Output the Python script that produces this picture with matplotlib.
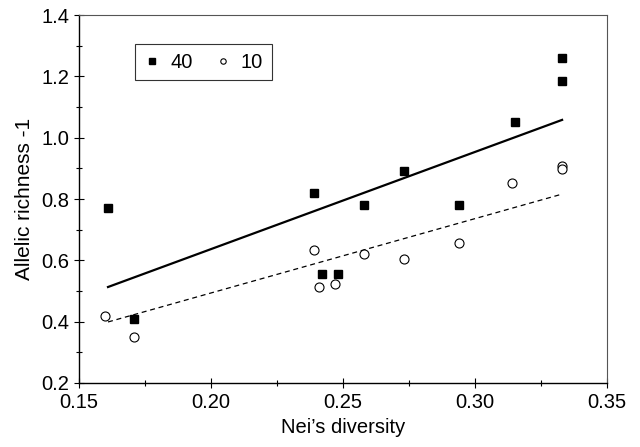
import numpy as np
import matplotlib
matplotlib.use("Agg")
import matplotlib.pyplot as plt
from matplotlib.ticker import MultipleLocator, FormatStrFormatter

# ----- data -----
nei_40 = [0.161, 0.171, 0.239, 0.242, 0.248, 0.258, 0.273, 0.294, 0.315, 0.333, 0.333]
ar_40 = [0.77, 0.41, 0.82, 0.555, 0.555, 0.78, 0.89, 0.78, 1.05, 1.26, 1.185]

nei_10 = [0.160, 0.171, 0.239, 0.241, 0.247, 0.258, 0.273, 0.294, 0.314, 0.333, 0.333]
ar_10 = [0.42, 0.35, 0.635, 0.513, 0.523, 0.622, 0.603, 0.655, 0.852, 0.908, 0.898]

# regression lines (end points as drawn)
fit_x = [0.161, 0.333]
fit_40 = [0.513, 1.058]
fit_10 = [0.399, 0.816]

plt.rcParams["font.family"] = ["Liberation Sans", "DejaVu Sans"]

fig = plt.figure(figsize=(6.4, 4.47), dpi=100)
ax = fig.add_axes([0.1234, 0.1432, 0.825, 0.8232])

ax.plot(fit_x, fit_40, color="black", lw=1.6)
ax.plot(fit_x, fit_10, color="black", lw=0.9, ls=(0, (4, 3)))

ax.plot(nei_40, ar_40, ls="none", marker="s", ms=6.2, mfc="black", mec="black",
        label="40")
ax.plot(nei_10, ar_10, ls="none", marker="o", ms=6.5, mfc="white", mec="black",
        mew=0.8, label="10")

ax.set_xlim(0.15, 0.35)
ax.set_ylim(0.2, 1.4)
ax.xaxis.set_major_locator(MultipleLocator(0.05))
ax.xaxis.set_minor_locator(MultipleLocator(0.025))
ax.yaxis.set_major_locator(MultipleLocator(0.2))
ax.yaxis.set_minor_locator(MultipleLocator(0.1))
ax.xaxis.set_major_formatter(FormatStrFormatter("%.2f"))
ax.yaxis.set_major_formatter(FormatStrFormatter("%.1f"))
ax.tick_params(which="major", direction="inout", length=7, width=0.8, labelsize=14.5)
ax.tick_params(which="minor", direction="inout", length=5, width=0.8)
ax.tick_params(axis="x", pad=4)

for s in ["top", "right"]:
    ax.spines[s].set_color("#555555")
    ax.spines[s].set_linewidth(0.8)
for s in ["left", "bottom"]:
    ax.spines[s].set_linewidth(1.0)

ax.set_xlabel("Nei\u2019s diversity", fontsize=14.5, labelpad=4)
ax.set_ylabel("Allelic richness -1", fontsize=15, labelpad=5)

leg = ax.legend(loc="upper left", bbox_to_anchor=(0.107, 0.92), ncol=2,
                fontsize=14.5, markerscale=0.6, handlelength=0.8,
                handletextpad=0.5, columnspacing=1.1, fancybox=False,
                framealpha=1, borderpad=0.42, borderaxespad=0)
leg.get_frame().set_edgecolor("#333333")
leg.get_frame().set_linewidth(0.8)

fig.savefig("out.png", dpi=100)
